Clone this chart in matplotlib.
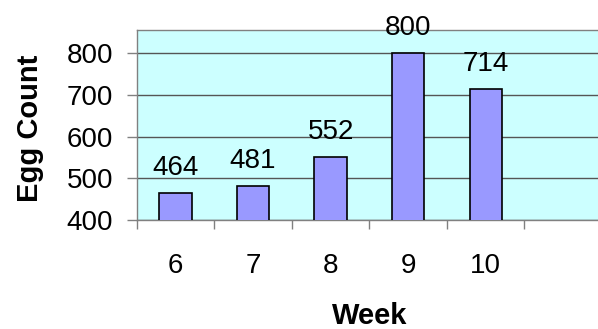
import matplotlib
matplotlib.use("Agg")
import matplotlib.pyplot as plt
import numpy as np

plt.rcParams['font.family'] = ['Liberation Sans', 'DejaVu Sans']

weeks = ['6', '7', '8', '9', '10', '']
egg_counts = [464, 481, 552, 800, 714]

fig = plt.figure(figsize=(5.98, 3.29), dpi=100)
ax = fig.add_axes([0.2286, 0.3313, 0.7781, 0.5775])
ax.set_facecolor('#CCFFFF')

x = np.arange(len(egg_counts))
bars = ax.bar(x, egg_counts, width=0.416, color='#9999FF', edgecolor='black',
              linewidth=1.2, zorder=3)

for b, v in zip(bars, egg_counts):
    ax.annotate(str(v), (b.get_x() + b.get_width() / 2, v), xytext=(0, 13),
                textcoords='offset points', ha='center', va='baseline',
                fontsize=20, clip_on=False, zorder=4)

ax.set_xlim(-0.5, len(weeks) - 0.5)
ax.set_ylim(400, 856)
ax.set_yticks([400, 500, 600, 700, 800])
ax.yaxis.grid(True, color='#555555', linewidth=1, zorder=1)

# category labels in the middle, tick marks on the boundaries
ax.set_xticks(np.arange(len(weeks)))
ax.set_xticklabels(weeks)
ax.set_xticks(np.arange(len(weeks) + 1) - 0.5, minor=True)
ax.tick_params(axis='x', which='major', length=0, pad=24, labelsize=20)
ax.tick_params(axis='x', which='minor', length=6.5, width=1, color='#808080',
               direction='out')
ax.tick_params(axis='y', length=7, width=1, color='#808080', pad=10,
               labelsize=20)

for s in ['left', 'bottom', 'top']:
    ax.spines[s].set_color('#808080')
    ax.spines[s].set_linewidth(1)
ax.spines['right'].set_visible(False)

ax.set_xlabel('Week', fontsize=21, fontweight='bold')
ax.xaxis.set_label_coords(0.5, -0.43)
ax.set_ylabel('Egg Count', fontsize=21, fontweight='bold')
ax.yaxis.set_label_coords(-0.2, 0.48)

fig.savefig('out.png', dpi=100)
